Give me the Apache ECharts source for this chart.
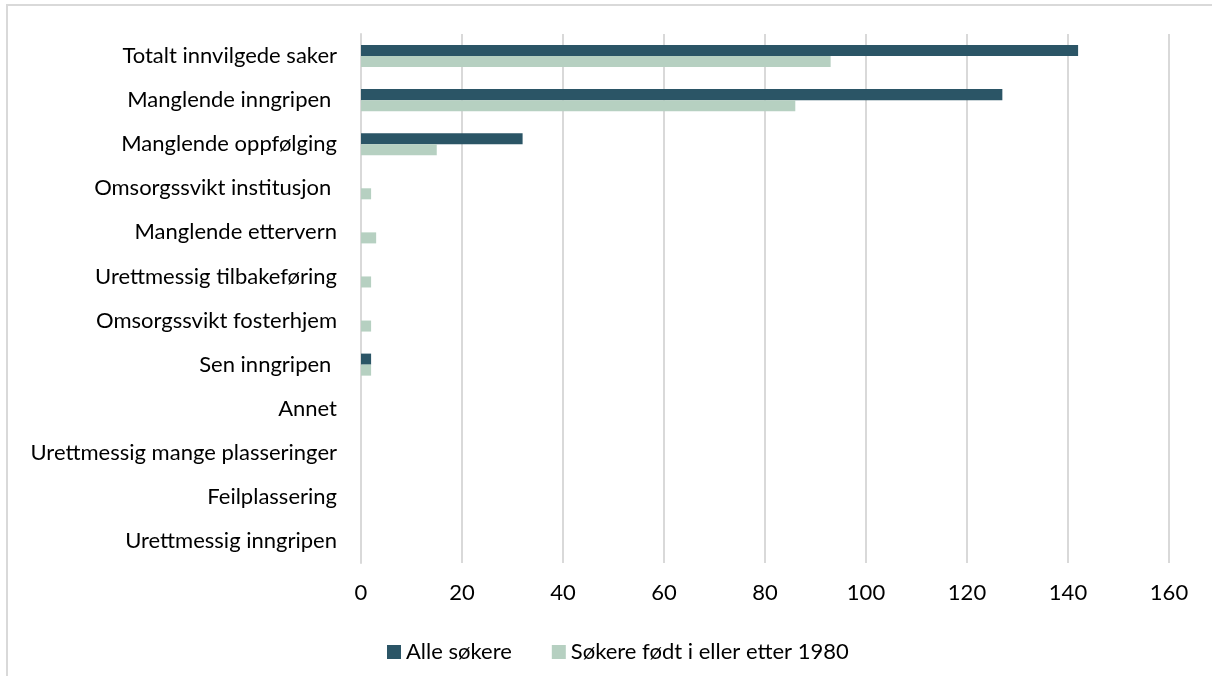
<!DOCTYPE html>
<html>
<head>
<meta charset="utf-8">
<script src="https://cdn.jsdelivr.net/npm/echarts@6/dist/echarts.min.js"></script>
<style>
  html, body { margin: 0; padding: 0; background: #fff; }
  #chart { width: 1212px; height: 676px; }
</style>
</head>
<body>
<div id="chart"></div>
<script>
// categories, top to bottom
const categories = [
  "Totalt innvilgede saker",
  "Manglende inngripen ",
  "Manglende oppfølging",
  "Omsorgssvikt institusjon ",
  "Manglende ettervern",
  "Urettmessig tilbakeføring",
  "Omsorgssvikt fosterhjem",
  "Sen inngripen ",
  "Annet",
  "Urettmessig mange plasseringer",
  "Feilplassering",
  "Urettmessig inngripen"
];
const alleSokere = [142, 127, 32, 0, 0, 0, 0, 2, 0, 0, 0, 0];
const fodtEtter1980 = [93, 86, 15, 2, 3, 2, 2, 2, 0, 0, 0, 0];
const seriesNames = ["Alle søkere", "Søkere født i eller etter 1980"];
const colorList = ["#2b5566", "#b6d0c1"];

const fontFamily = "Lato, 'Open Sans', sans-serif";
const fontSize = 22;

const chart = echarts.init(document.getElementById("chart"));

const option = {
  backgroundColor: "#fff",
  animation: false,
  color: colorList,
  grid: {
    left: 361,
    right: 43,
    top: 34,
    bottom: 113
  },
  legend: {
    top: 636,
    left: 382,
    itemWidth: 14,
    itemHeight: 14,
    itemGap: 40,
    icon: "rect",
    textStyle: {
      color: "#000",
      fontSize: fontSize,
      fontFamily: fontFamily
    },
    data: seriesNames
  },
  xAxis: {
    type: "value",
    min: 0,
    max: 160,
    interval: 20,
    axisLine: { show: false },
    axisTick: { show: false },
    splitLine: {
      show: true,
      lineStyle: { color: "#d9d9d9", width: 2 }
    },
    axisLabel: {
      color: "#000",
      fontSize: fontSize,
      fontFamily: fontFamily,
      margin: 19
    }
  },
  yAxis: {
    type: "category",
    inverse: true,
    data: categories,
    axisTick: { show: false },
    axisLine: {
      show: true,
      lineStyle: { color: "#d9d9d9", width: 2 }
    },
    axisLabel: {
      color: "#000",
      fontSize: fontSize,
      fontFamily: fontFamily,
      margin: 24
    }
  },
  series: [
    {
      name: seriesNames[0],
      type: "bar",
      data: alleSokere,
      barGap: "0%",
      barCategoryGap: "50%",
      itemStyle: { color: colorList[0] }
    },
    {
      name: seriesNames[1],
      type: "bar",
      data: fodtEtter1980,
      barGap: "0%",
      barCategoryGap: "50%",
      itemStyle: { color: colorList[1] }
    }
  ],
  graphic: [
    {
      type: "polyline",
      shape: { points: [[7, 676], [7, 5], [1212, 5]] },
      style: { stroke: "#d9d9d9", lineWidth: 2, fill: null }
    }
  ]
};

chart.setOption(option);
</script>
</body>
</html>
